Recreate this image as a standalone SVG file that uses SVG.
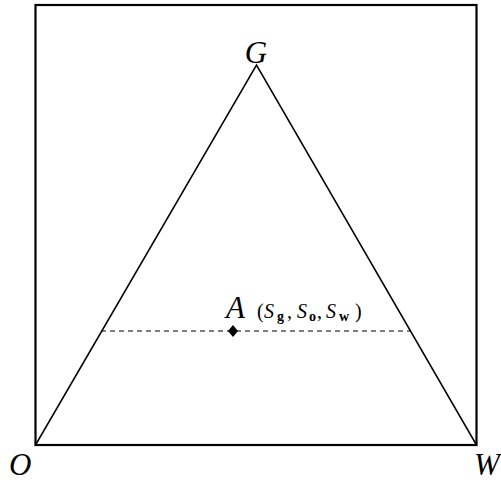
<svg xmlns="http://www.w3.org/2000/svg" width="501" height="485" viewBox="0 0 501 485">
<style>
.lbl{font-family:"Liberation Serif","DejaVu Serif",serif;font-style:italic;fill:#000;font-size:31px}
.tup{font-family:"Liberation Serif","DejaVu Serif",serif;fill:#000;font-size:20px}
.it{font-style:italic}
.sub{font-weight:bold;font-size:14px}
.ln{stroke:#000;fill:none}
</style>
<rect width="501" height="485" fill="#fff"/>
<g id="frame"><rect x="35.5" y="5" width="441" height="440" class="ln" stroke-width="2.2"/></g>
<g id="connectors">
<polyline points="35.5,445 256.5,65 476.5,445" class="ln" stroke-width="1.5"/>
<line x1="101" y1="331" x2="410" y2="331" class="ln" stroke-width="1" stroke-dasharray="5,4"/>
</g>
<g id="node-O"><text class="lbl" x="9" y="475">O</text></g>
<g id="node-G"><text class="lbl" x="256" y="63" text-anchor="middle">G</text></g>
<g id="node-W"><text class="lbl" x="474" y="475">W</text></g>
<g id="node-A">
<polygon points="233,325 238,331 233,337 228,331" fill="#000"/>
<text class="lbl" x="226" y="318">A</text>
<text class="tup" y="318"><tspan x="257">(</tspan><tspan class="it" x="264">S</tspan><tspan class="sub" x="277" dy="3">g</tspan><tspan x="287" dy="-3">,</tspan><tspan class="it" x="297">S</tspan><tspan class="sub" x="309" dy="3">o</tspan><tspan x="317" dy="-3">,</tspan><tspan class="it" x="326">S</tspan><tspan class="sub" x="339" dy="3">w</tspan><tspan x="355" dy="-3">)</tspan></text>
</g>
</svg>
